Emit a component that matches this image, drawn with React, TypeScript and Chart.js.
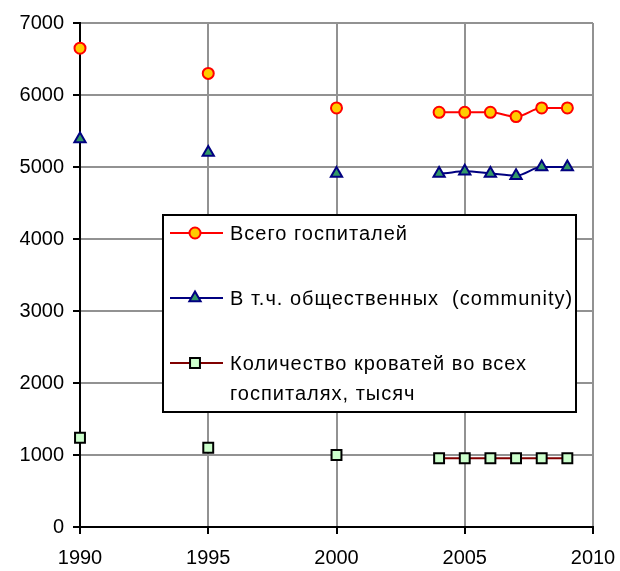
import { useEffect, useRef } from "react";
import { Chart, registerables } from "chart.js";

Chart.register(...registerables);

const years = [1990, 1995, 2000, 2004, 2005, 2006, 2007, 2008, 2009];
const totalHospitals = [6650, 6300, 5820, 5760, 5760, 5760, 5700, 5820, 5820];
const communityHospitals = [5390, 5200, 4910, 4910, 4940, 4910, 4880, 5000, 5000];
const bedsThousands = [1240, 1100, 1000, 955, 955, 955, 955, 955, 955];
const legendLines = [
  ["Всего госпиталей"],
  ["В т.ч. общественных  (community)"],
  ["Количество кроватей во всех", "госпиталях, тысяч"],
];
const xMin = 1990;
const xMax = 2010;
const xStep = 5;
const yMin = 0;
const yMax = 7000;
const yStep = 1000;

const FONT = "'Liberation Sans', Arial, sans-serif";

const styles = [
  { line: "#FF0000", fill: "#FFCC00", border: "#FF0000", shape: "circle", radius: 5.5 },
  { line: "#000080", fill: "#339966", border: "#000080", shape: "triangle", radius: 6.5 },
  { line: "#800000", fill: "#CCFFCC", border: "#000000", shape: "rect", radius: 7 },
];

function drawMarker(ctx: CanvasRenderingContext2D, shape: string, x: number, y: number, r: number, fill: string, border: string) {
  ctx.save();
  ctx.beginPath();
  if (shape === "circle") {
    ctx.arc(x, y, r, 0, Math.PI * 2);
  } else if (shape === "triangle") {
    for (let i = 0; i < 3; i++) {
      const a = -Math.PI / 2 + (i * 2 * Math.PI) / 3;
      const px = x + Math.cos(a) * r;
      const py = y + Math.sin(a) * r;
      if (i === 0) ctx.moveTo(px, py);
      else ctx.lineTo(px, py);
    }
    ctx.closePath();
  } else {
    const s = r * Math.SQRT1_2;
    ctx.rect(x - s, y - s, 2 * s, 2 * s);
  }
  ctx.fillStyle = fill;
  ctx.fill();
  ctx.lineWidth = 2;
  ctx.strokeStyle = border;
  ctx.stroke();
  ctx.restore();
}

const legendPlugin = {
  id: "boxLegend",
  afterDraw(chart: any) {
    const ctx: CanvasRenderingContext2D = chart.ctx;
    const area = chart.chartArea;
    const left = area.left + 83;
    const top = area.top + 192;
    const w = 413;
    const h = 197;
    ctx.save();
    ctx.fillStyle = "#FFFFFF";
    ctx.fillRect(left, top, w, h);
    ctx.lineWidth = 2;
    ctx.strokeStyle = "#000000";
    ctx.strokeRect(left, top, w, h);
    const rowY = [18, 83, 148];
    ctx.font = `20px ${FONT}`;
    (ctx as any).letterSpacing = "1px";
    ctx.textBaseline = "middle";
    ctx.textAlign = "left";
    chart.data.datasets.forEach((ds: any, i: number) => {
      const st = styles[i];
      const y = top + rowY[i];
      ctx.beginPath();
      ctx.moveTo(left + 7, y);
      ctx.lineTo(left + 60, y);
      ctx.lineWidth = 2;
      ctx.strokeStyle = st.line;
      ctx.stroke();
      drawMarker(ctx, st.shape, left + 32, y, st.radius, st.fill, st.border);
      ctx.fillStyle = "#000000";
      legendLines[i].forEach((t, j) => {
        ctx.fillText(t, left + 67, y + 1 + j * 30);
      });
    });
    ctx.restore();
  },
};

export default function App() {
  const ref = useRef<HTMLCanvasElement>(null);
  useEffect(() => {
    document.body.style.margin = "0";
    const series = [totalHospitals, communityHospitals, bedsThousands];
    const chart = new Chart(ref.current!, {
      type: "line",
      data: {
        datasets: series.map((vals, i) => {
          const st = styles[i];
          return {
            label: legendLines[i].join(" "),
            data: years.map((x, k) => ({ x, y: vals[k] })),
            borderColor: st.line,
            borderWidth: 2,
            backgroundColor: st.fill,
            pointBackgroundColor: st.fill,
            pointBorderColor: st.border,
            pointBorderWidth: 2,
            pointRadius: st.radius,
            pointStyle: st.shape as any,
            cubicInterpolationMode: "monotone" as const,
            clip: false as any,
            segment: {
              borderColor: (c: any) => (c.p1.parsed.x - c.p0.parsed.x > 1 ? "rgba(0,0,0,0)" : st.line),
            },
          };
        }),
      },
      options: {
        responsive: false,
        animation: false,
        layout: { padding: { left: 0, top: 23, right: 27, bottom: 0 } },
        plugins: { legend: { display: false }, tooltip: { enabled: false } },
        scales: {
          x: {
            type: "linear",
            min: xMin,
            max: xMax,
            afterFit: (s: any) => { s.height = 44; s.paddingRight = 0; s.paddingLeft = 0; },
            ticks: { stepSize: xStep, color: "#000", font: { family: FONT, size: 20 }, padding: 12, callback: (v: any) => String(v) },
            grid: { color: "#929292", lineWidth: 2, tickColor: "#000", tickLength: 7 },
            border: { color: "#000", width: 2 },
          },
          y: {
            min: yMin,
            max: yMax,
            afterFit: (s: any) => { s.width = 80; s.paddingTop = 0; s.paddingBottom = 0; },
            ticks: { stepSize: yStep, color: "#000", font: { family: FONT, size: 20 }, padding: 9, callback: (v: any) => String(v) },
            grid: { color: "#929292", lineWidth: 2, tickColor: "#000", tickLength: 7 },
            border: { color: "#000", width: 2 },
          },
        },
      },
      plugins: [legendPlugin],
    });
    return () => chart.destroy();
  }, []);
  return (
    <div style={{ width: 620, height: 571, background: "#fff" }}>
      <canvas ref={ref} width={620} height={571} />
    </div>
  );
}
